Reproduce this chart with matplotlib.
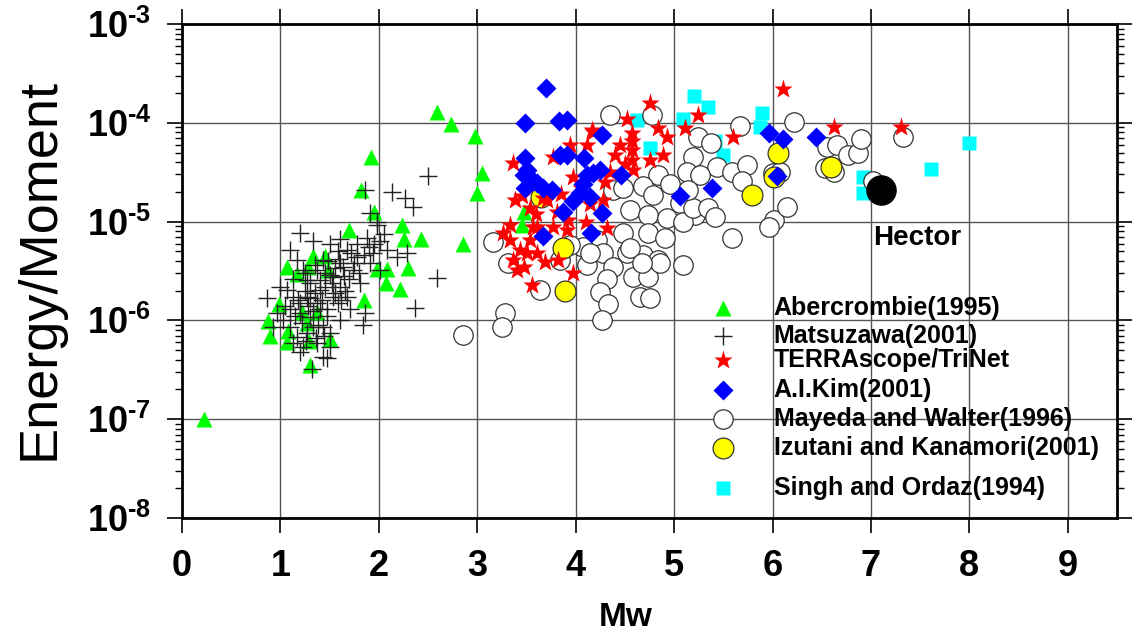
import matplotlib
matplotlib.use("Agg")
import matplotlib.pyplot as plt
from matplotlib.ticker import LogLocator, NullFormatter

plt.rcParams["font.family"] = ["Liberation Sans", "DejaVu Sans"]
plt.rcParams["mathtext.fontset"] = "custom"
plt.rcParams["mathtext.rm"] = "Liberation Sans:bold"
plt.rcParams["mathtext.bf"] = "Liberation Sans:bold"

# (Mw, radiated energy / seismic moment)
abercrombie = [(0.22, 1.0e-7), (2.59, 1.29e-4), (2.73, 9.8e-5), (2.98, 7.3e-5), (1.92, 4.5e-5),
               (3.05, 3.1e-5), (1.82, 2.1e-5), (3.00, 1.95e-5), (1.95, 1.26e-5), (1.70, 8.3e-6),
               (2.24, 9.3e-6), (2.26, 6.6e-6), (2.43, 6.6e-6), (2.86, 6.0e-6), (1.33, 4.5e-6),
               (1.45, 4.5e-6), (1.07, 3.5e-6), (1.17, 2.95e-6), (1.28, 3.5e-6), (1.48, 3.2e-6),
               (1.98, 3.3e-6), (2.08, 3.3e-6), (2.30, 3.4e-6), (2.07, 2.4e-6), (2.21, 2.1e-6),
               (1.85, 1.6e-6), (0.99, 1.45e-6), (0.87, 9.8e-7), (0.89, 6.9e-7), (1.08, 7.9e-7),
               (1.07, 6.0e-7), (1.29, 6.2e-7), (1.50, 6.5e-7), (1.30, 3.5e-7), (1.27, 9.5e-7),
               (1.22, 1.23e-6), (1.37, 1.23e-6), (3.47, 1.26e-5), (3.45, 9.3e-6)]

matsuzawa = [(2.50, 2.9e-5), (2.13, 2.0e-5), (2.27, 1.74e-5), (2.35, 1.4e-5), (2.59, 2.7e-6),
             (2.37, 1.35e-6), (0.86, 1.7e-6), (1.86, 2.1e-5), (1.91, 1.23e-5), (1.98, 9.3e-6),
             (1.20, 7.6e-6), (1.10, 5.1e-6), (1.33, 6.4e-6), (1.61, 6.7e-6), (1.78, 6.0e-6),
             (2.08, 5.1e-6), (2.29, 4.8e-6), (1.17, 4.1e-6), (1.61, 3.8e-6), (2.18, 4.4e-6),
             (1.00, 2.2e-6), (1.13, 1.74e-6), (1.71, 1.29e-6), (1.86, 1.18e-6), (1.84, 8.9e-7),
             (1.20, 4.8e-7), (1.47, 4.2e-7), (1.32, 3.2e-7), (1.07, 2.04e-6), (1.53, 2.75e-6),
             (1.74, 3.2e-6), (1.94, 4.8e-6), (1.43, 4.1e-6), (1.27, 2.57e-6), (1.40, 2.04e-6),
             (1.53, 1.74e-6), (1.37, 1.5e-6), (1.20, 1.18e-6), (1.10, 8.5e-7), (1.27, 7.4e-7),
             (1.43, 8.5e-7), (1.61, 1.0e-6), (1.68, 1.74e-6), (1.81, 2.4e-6), (1.68, 5.1e-6),
             (1.88, 6.9e-6), (2.01, 6.4e-6), (1.50, 6.0e-6), (1.37, 3.2e-6), (1.23, 3.2e-6),
             (1.61, 2.2e-6), (1.47, 1.29e-6), (1.30, 1.07e-6), (1.17, 6.8e-7), (1.37, 5.9e-7),
             (1.50, 5.4e-7), (1.13, 5.9e-7), (1.03, 1.0e-6), (0.97, 1.18e-6), (0.92, 8.5e-7),
             (1.58, 1.5e-6), (1.64, 3.5e-6), (1.78, 4.4e-6), (1.91, 3.8e-6), (2.01, 3.2e-6),
             (1.27, 1.74e-6), (1.40, 2.57e-6), (1.33, 8.5e-7), (1.20, 1.5e-6), (1.10, 1.29e-6),
             (1.50, 7.4e-7), (1.23, 5.4e-7), (1.98, 1.0e-5), (1.43, 4.3e-7),
             (1.25, 2.0e-6), (1.30, 2.4e-6), (1.35, 1.9e-6), (1.28, 1.4e-6), (1.45, 2.2e-6),
             (1.50, 2.9e-6), (1.55, 3.4e-6), (1.60, 4.2e-6), (1.65, 2.8e-6), (1.42, 1.6e-6),
             (1.33, 1.25e-6), (1.22, 9.5e-7), (1.38, 9.0e-7), (1.47, 1.1e-6), (1.55, 1.9e-6),
             (1.70, 2.6e-6), (1.75, 3.8e-6), (1.85, 4.6e-6), (1.90, 5.5e-6), (1.15, 1.1e-6),
             (1.18, 1.6e-6), (1.25, 3.0e-6), (1.35, 3.6e-6), (1.45, 3.0e-6), (1.40, 1.3e-6),
             (1.30, 1.7e-6), (1.52, 2.4e-6), (1.62, 1.6e-6), (1.58, 5.0e-6), (1.72, 4.8e-6),
             (1.95, 6.0e-6), (2.05, 7.5e-6), (1.13, 2.6e-6), (1.36, 6.6e-7), (1.26, 6.2e-7),
             (1.44, 7.0e-7), (1.05, 1.4e-6), (1.48, 4.0e-6), (1.80, 3.0e-6), (1.66, 2.0e-6)]

terrascope = [(4.75, 1.58e-4), (4.52, 1.1e-4), (4.84, 8.9e-5), (4.93, 7.1e-5), (5.11, 8.9e-5),
              (5.24, 1.2e-4), (4.57, 7.9e-5), (4.57, 6.5e-5), (4.57, 5.3e-5), (4.57, 4.2e-5),
              (4.58, 3.3e-5), (4.40, 4.7e-5), (4.89, 4.7e-5), (4.76, 4.2e-5), (4.17, 8.5e-5),
              (4.12, 6.0e-5), (3.94, 6.0e-5), (3.77, 4.5e-5), (3.36, 3.9e-5), (3.97, 2.8e-5),
              (4.28, 1.66e-5), (4.32, 8.7e-6), (4.10, 9.8e-6), (3.92, 1.05e-5), (3.81, 1.26e-5),
              (3.71, 1.66e-5), (3.54, 1.38e-5), (3.38, 1.66e-5), (3.33, 9.3e-6), (3.33, 6.5e-6),
              (3.43, 5.1e-6), (3.54, 6.5e-6), (3.61, 8.9e-6), (3.36, 4.1e-6), (3.47, 3.5e-6),
              (3.56, 2.3e-6), (3.69, 3.9e-6), (3.82, 4.1e-6), (3.97, 3.0e-6), (3.26, 7.6e-6),
              (3.51, 4.8e-6), (3.77, 8.9e-6), (3.91, 8.3e-6), (3.57, 8.9e-6), (3.61, 4.8e-6),
              (3.40, 3.2e-6), (3.67, 1.74e-5), (6.11, 2.2e-4), (5.60, 7.1e-5), (6.62, 9.1e-5),
              (7.31, 9.1e-5), (4.18, 8.1e-5), (4.05, 2.2e-5), (3.85, 1.9e-5), (4.30, 2.5e-5),
              (4.15, 1.5e-5), (3.45, 1.8e-5), (3.60, 1.2e-5), (4.45, 6.0e-5), (4.50, 3.8e-5),
              (4.35, 3.2e-5)]

kim = [(3.70, 2.25e-4), (3.49, 1.0e-4), (3.83, 1.05e-4), (3.91, 1.07e-4), (4.27, 7.6e-5),
       (3.49, 4.4e-5), (3.84, 4.7e-5), (3.91, 4.7e-5), (4.08, 4.4e-5), (4.46, 2.95e-5),
       (5.06, 1.82e-5), (3.47, 2.95e-5), (3.54, 2.75e-5), (3.61, 2.45e-5), (3.67, 2.2e-5),
       (3.76, 2.1e-5), (3.49, 2.2e-5), (4.12, 2.95e-5), (4.18, 3.1e-5), (4.25, 3.3e-5),
       (4.07, 2.4e-5), (4.04, 1.95e-5), (3.97, 1.62e-5), (3.87, 1.26e-5), (4.27, 1.23e-5),
       (3.67, 7.2e-6), (4.16, 7.6e-6), (3.51, 3.3e-5), (3.57, 2.6e-5), (4.15, 1.78e-5),
       (5.39, 2.2e-5), (5.96, 7.9e-5), (6.11, 6.9e-5), (6.44, 7.2e-5), (6.05, 2.9e-5)]

mayeda = [(4.35, 1.2e-4), (4.78, 1.2e-4), (5.24, 7.1e-5), (5.19, 4.5e-5), (5.13, 3.2e-5),
          (4.84, 2.95e-5), (4.68, 2.3e-5), (4.38, 2.1e-5), (4.96, 2.4e-5), (4.79, 1.86e-5),
          (5.06, 1.55e-5), (5.21, 1.17e-5), (4.55, 1.32e-5), (4.73, 1.17e-5), (4.93, 1.1e-5),
          (4.48, 7.6e-6), (4.73, 7.6e-6), (4.91, 6.9e-6), (5.09, 9.8e-6), (4.22, 6.5e-6),
          (4.07, 5.5e-6), (4.28, 4.8e-6), (4.52, 4.8e-6), (4.68, 4.6e-6), (4.84, 4.1e-6),
          (5.09, 3.6e-6), (4.12, 3.6e-6), (4.38, 3.5e-6), (4.32, 2.6e-6), (4.58, 2.75e-6),
          (4.73, 2.75e-6), (4.25, 1.95e-6), (4.33, 1.45e-6), (4.65, 1.74e-6), (4.76, 1.7e-6),
          (4.27, 1.0e-6), (3.64, 2.04e-6), (3.16, 6.2e-6), (3.31, 3.8e-6), (3.28, 1.18e-6),
          (3.25, 8.5e-7), (2.85, 7.1e-7), (3.94, 5.8e-6), (3.84, 4.1e-6), (5.37, 6.3e-5),
          (5.67, 9.3e-5), (5.44, 3.55e-5), (5.59, 3.2e-5), (5.74, 3.7e-5), (5.69, 2.6e-5),
          (5.26, 2.95e-5), (4.48, 2.2e-5), (5.19, 1.38e-5), (5.34, 1.38e-5), (5.42, 1.12e-5),
          (5.59, 6.8e-6), (4.55, 5.4e-6), (4.86, 3.8e-6), (4.67, 3.8e-6), (4.15, 4.8e-6),
          (6.22, 1.02e-4), (5.14, 2.1e-5), (6.00, 3.1e-5), (6.08, 3.2e-5), (6.02, 1.05e-5),
          (6.15, 1.41e-5), (5.96, 8.9e-6), (6.55, 5.7e-5), (6.65, 6.0e-5), (6.53, 3.5e-5),
          (6.77, 4.7e-5), (6.87, 4.9e-5), (6.90, 6.8e-5), (6.62, 3.2e-5), (7.02, 2.6e-5),
          (7.33, 7.1e-5)]

izutani = [(3.87, 5.4e-6), (3.89, 2.0e-6), (3.65, 1.78e-5), (5.79, 1.86e-5), (6.01, 2.8e-5),
           (6.06, 5.0e-5), (6.59, 3.55e-5)]

singh = [(5.20, 1.86e-4), (5.34, 1.45e-4), (5.09, 1.1e-4), (4.62, 1.07e-4), (4.76, 5.5e-5),
         (5.89, 1.26e-4), (5.87, 9.1e-5), (5.50, 4.7e-5), (6.92, 2.8e-5), (6.92, 1.95e-5),
         (7.61, 3.4e-5), (8.00, 6.3e-5), (5.42, 6.5e-5)]

hector = (7.10, 2.1e-5)

legend_labels = ["Abercrombie(1995)", "Matsuzawa(2001)", "TERRAscope/TriNet", "A.I.Kim(2001)",
                 "Mayeda and Walter(1996)", "Izutani and Kanamori(2001)", "Singh and Ordaz(1994)"]

styles = [
    dict(marker="^", ms=12, mfc="#00ff00", mec="none", ls="none", zorder=3),
    dict(marker="+", ms=13, color="#222222", mew=1.0, ls="none", zorder=4),
    dict(marker="*", ms=14, mfc="#ff0000", mec="none", ls="none", zorder=7),
    dict(marker="D", ms=10.5, mfc="#0000ff", mec="none", ls="none", zorder=8),
    dict(marker="o", ms=14, mfc="white", mec="#333333", mew=0.9, ls="none", zorder=5),
    dict(marker="o", ms=15, mfc="#ffff00", mec="#333333", mew=0.9, ls="none", zorder=6),
    dict(marker="s", ms=10, mfc="#00ffff", mec="none", ls="none", zorder=4.5),
]
datasets = [abercrombie, matsuzawa, terrascope, kim, mayeda, izutani, singh]

fig = plt.figure(figsize=(11.32, 6.33), dpi=100)
ax = fig.add_axes([182 / 1132, 115 / 633, 935 / 1132, 494 / 633])

for pts, st in zip(datasets, styles):
    xs = [p[0] for p in pts]
    ys = [p[1] for p in pts]
    ax.plot(xs, ys, **st)

ax.plot([hector[0]], [hector[1]], marker="o", ms=21, mfc="black", mec="black", ls="none", zorder=6.5)
ax.text(7.02, 6.9e-6, "Hector", fontsize=20, fontweight="bold", ha="left", va="center")

# legend drawn by hand inside the axes
leg_y = [0.425, 0.368, 0.320, 0.259, 0.200, 0.142, 0.061]
for lab, st, yy in zip(legend_labels, styles, leg_y):
    s = dict(st)
    s["zorder"] = 10
    ax.plot([0.579], [yy], transform=ax.transAxes, clip_on=False, **s)
    ax.text(0.633, yy, lab, transform=ax.transAxes, fontsize=18, fontweight="bold",
            va="center", ha="left", zorder=10)

ax.set_yscale("log")
ax.set_xlim(0, 9.5)
ax.set_ylim(1e-8, 1e-3)

ax.set_xticks(range(10))
ax.set_xticklabels([str(i) for i in range(10)], fontsize=26, fontweight="bold")
ax.set_yticks([1e-8, 1e-7, 1e-6, 1e-5, 1e-4, 1e-3])
ax.set_yticklabels([r"$10^{\text{-}%d}$" % k for k in [8, 7, 6, 5, 4, 3]], fontsize=26)
ax.yaxis.set_minor_locator(LogLocator(base=10, subs=range(2, 10)))
ax.yaxis.set_minor_formatter(NullFormatter())

ax.tick_params(which="major", direction="out", length=11, width=1.2, top=True, right=True,
               labeltop=False, labelright=False, pad=11)
ax.tick_params(which="minor", direction="out", length=5, width=1.0, left=True, right=True)

ax.grid(True, which="major", color="#555555", lw=1.0)
ax.set_axisbelow(True)
for sp in ax.spines.values():
    sp.set_linewidth(2.0)

fig.text(626 / 1132, 1 - 617 / 633, "Mw", fontsize=24, fontweight="bold", ha="center", va="center")
fig.text(40 / 1132, 1 - 269 / 633, "Energy/Moment", fontsize=39, rotation=90, ha="center", va="center")

fig.savefig("out.png", dpi=100)
